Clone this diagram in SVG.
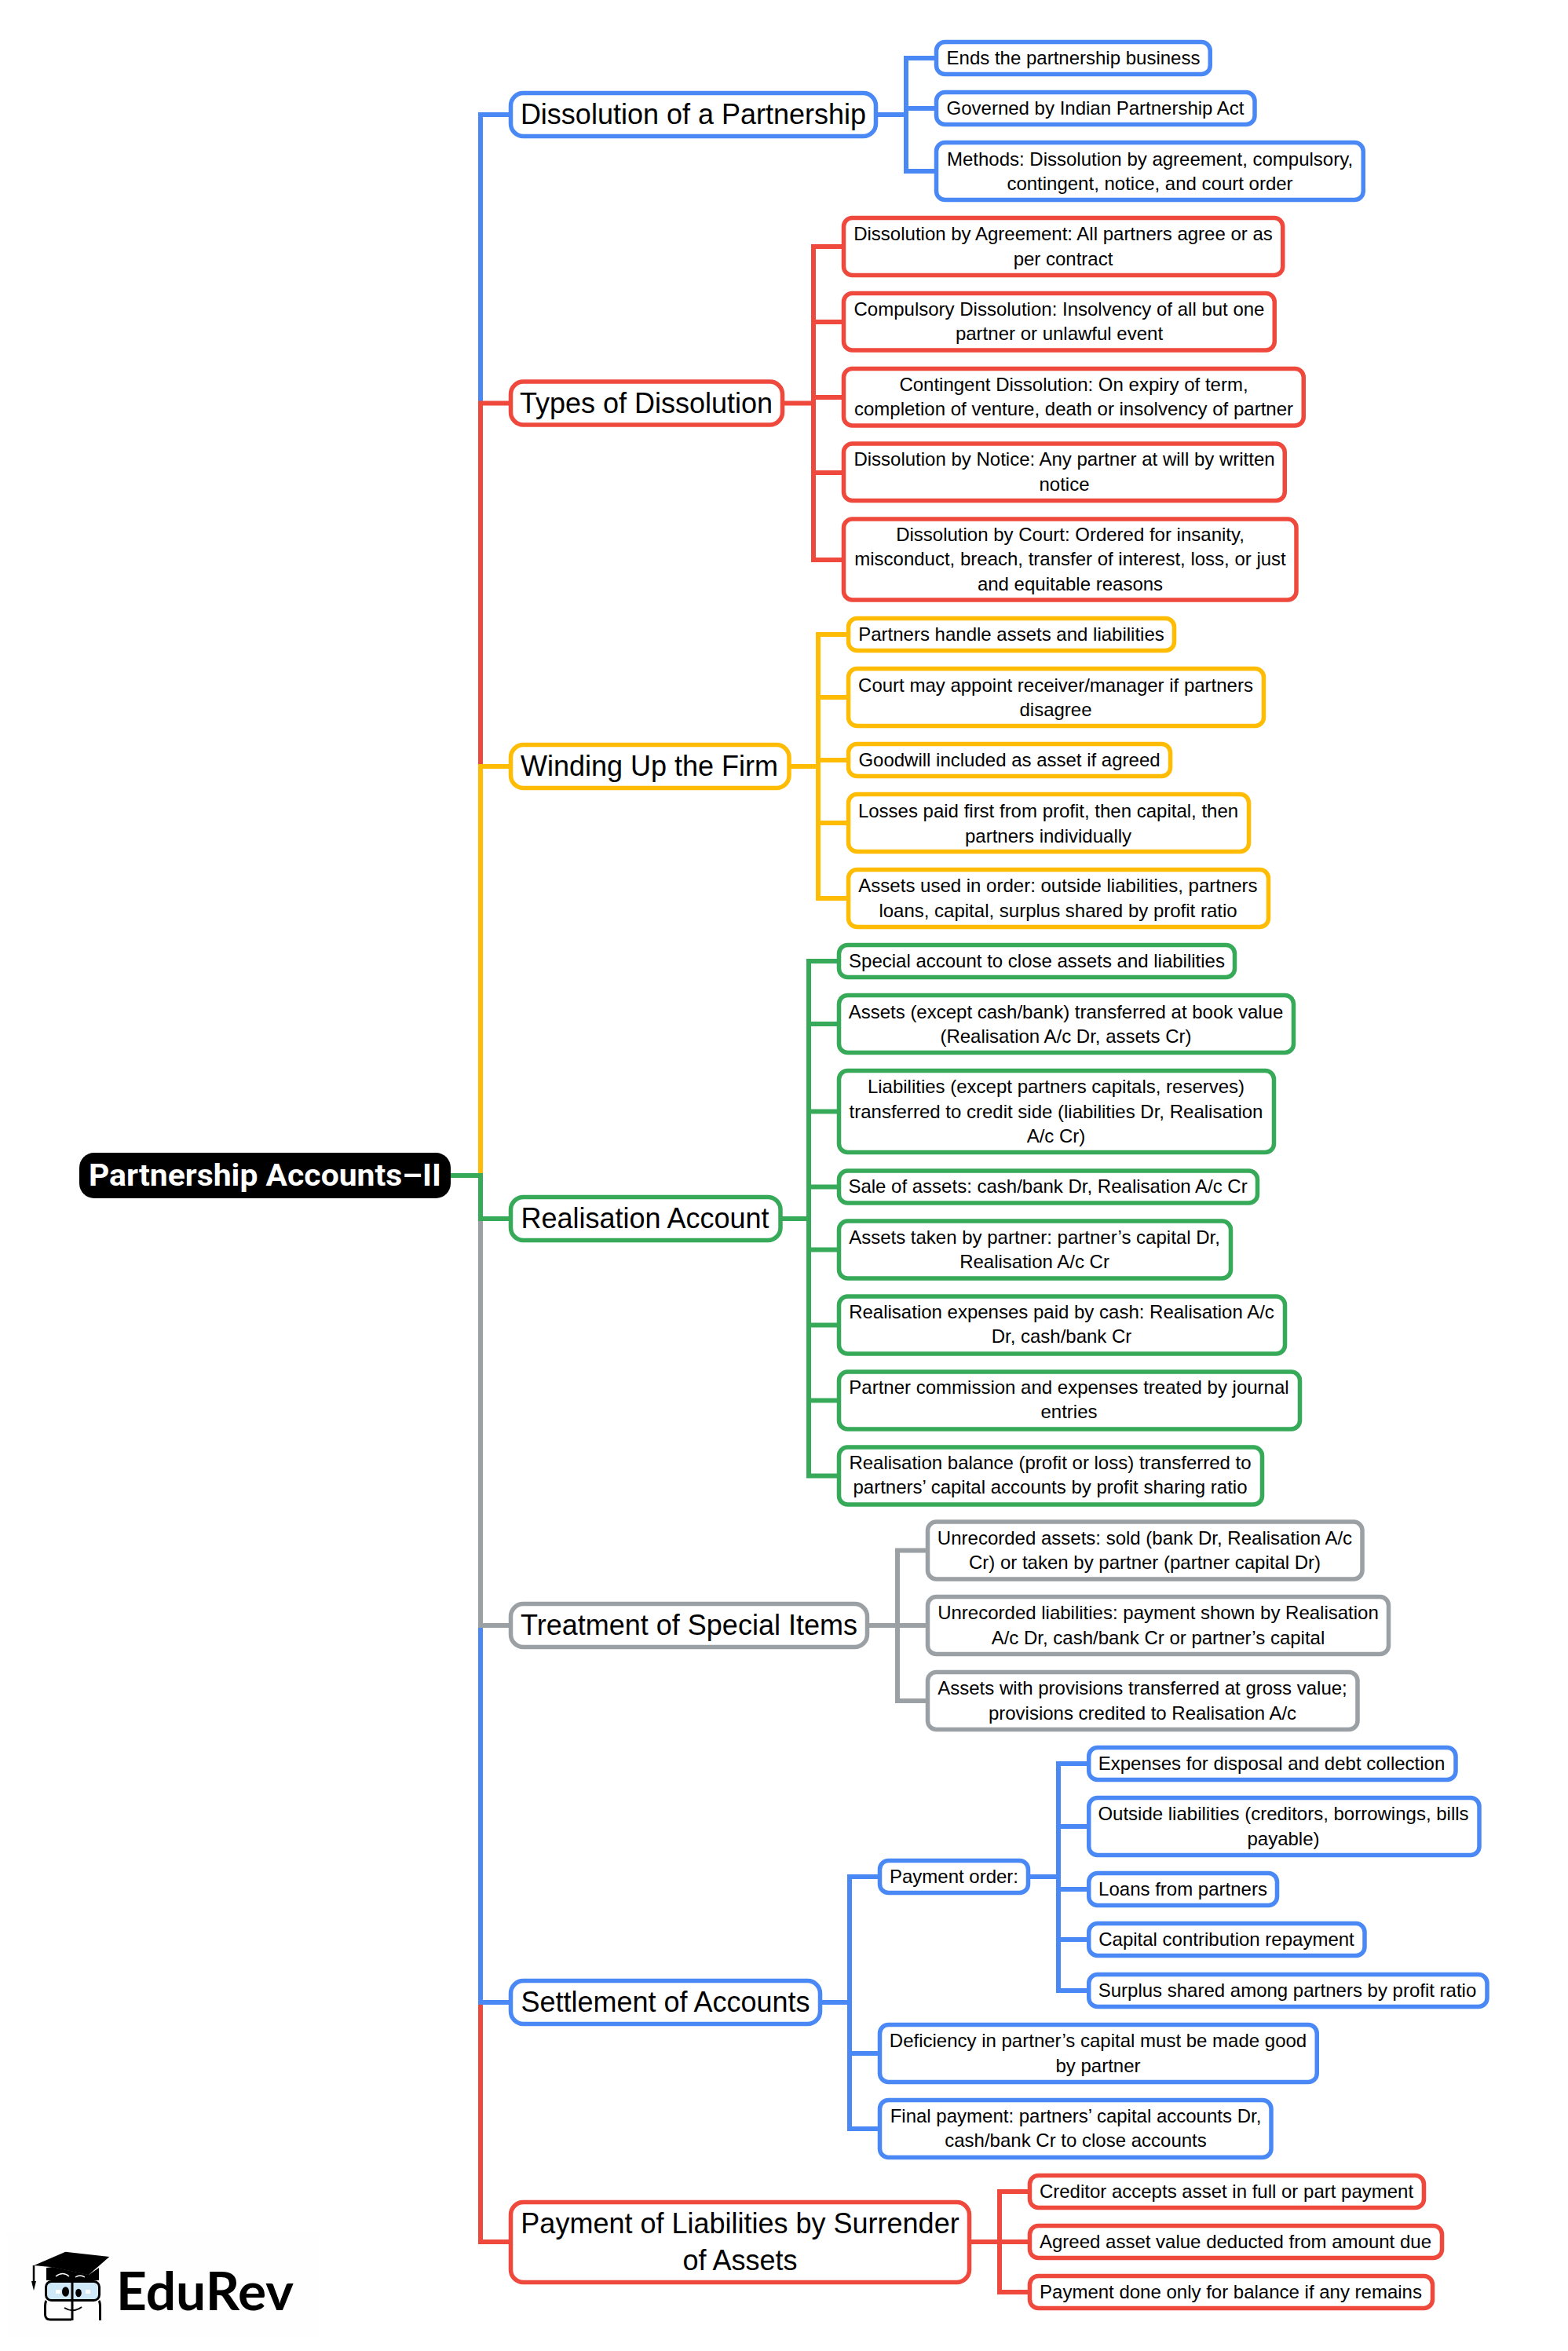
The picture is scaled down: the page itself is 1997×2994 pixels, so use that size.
<svg xmlns="http://www.w3.org/2000/svg" width="1997" height="2994" viewBox="0 0 1997 2994">
<style>
text{font-family:"Liberation Sans",Arial,sans-serif;fill:#000;text-anchor:middle}
.s{font-size:24px}
.l{font-size:36px}
.n{fill:#fff;stroke-width:5.5}
.m{rx:11px;ry:11px}
.b{rx:16px;ry:16px}
.c{fill:none;stroke-width:6;stroke-linejoin:miter}
.bl{stroke:#4a89f5}.re{stroke:#ee493c}.ye{stroke:#ffbc04}.gr{stroke:#36aa58}.ga{stroke:#9aa0a4}
</style>
<rect width="1997" height="2994" fill="#fff"/>
<rect id="logo-bg" x="10" y="2843" width="396" height="134" fill="#fefefe"/>
<g id="connectors">
<path class="c bl" d="M574 1497H612V146H650"/>
<path class="c re" d="M574 1497H612V2855H650"/>
<path class="c re" d="M574 1497H612V513.5H650"/>
<path class="c bl" d="M574 1497H612V2550H650"/>
<path class="c ye" d="M574 1497H612V976H650"/>
<path class="c ga" d="M574 1497H612V2070H650"/>
<path class="c gr" d="M574 1497H612V1552H650"/>
<path class="c bl" d="M1116 146H1154M1192 74H1154V218H1192M1154 138H1192"/>
<path class="c re" d="M996 513.5H1036M1074 314H1036V713H1074M1036 410H1074M1036 506H1074M1036 602H1074"/>
<path class="c ye" d="M1004 976H1042M1080 808H1042V1144H1080M1042 888H1080M1042 968H1080M1042 1048H1080"/>
<path class="c gr" d="M993 1552H1030M1068 1224H1030V1879.5H1068M1030 1304H1068M1030 1415.5H1068M1030 1511.5H1068M1030 1591.5H1068M1030 1687.5H1068M1030 1783.5H1068"/>
<path class="c ga" d="M1105 2070H1143M1181 1974.5H1143V2166H1181M1143 2070H1181"/>
<path class="c bl" d="M1045 2550H1082M1120 2390H1082V2711H1120M1082 2615H1120"/>
<path class="c bl" d="M1310 2390H1348M1386 2246H1348V2535H1386M1348 2326H1386M1348 2406H1386M1348 2470H1386"/>
<path class="c re" d="M1235 2855H1273M1311 2791H1273V2919H1311M1273 2855H1311"/>
</g>
<g id="root"><rect x="101" y="1468" width="473" height="58" rx="19" ry="19" fill="#000"/><text x="337.5" y="1510" style="fill:#fff;font-family:Roboto,'Liberation Sans',sans-serif;font-size:38px;font-weight:700" textLength="449" lengthAdjust="spacingAndGlyphs">Partnership Accounts–II</text></g>

<g id="n1"><rect class="n b bl" x="650.5" y="118.5" width="465" height="55"/><text class="l" x="883" y="158">Dissolution of a Partnership</text></g>
<g id="n1-1"><rect class="n m bl" x="1192.5" y="53.5" width="348.75" height="41"/><text class="s" x="1367" y="82">Ends the partnership business</text></g>
<g id="n1-2"><rect class="n m bl" x="1192.5" y="117.5" width="405.5" height="41"/><text class="s" x="1395" y="146">Governed by Indian Partnership Act</text></g>
<g id="n1-3"><rect class="n m bl" x="1192.5" y="181.5" width="543.75" height="73"/><text class="s" x="1464.5" y="210.5">Methods: Dissolution by agreement, compulsory,</text><text class="s" x="1464.5" y="242">contingent, notice, and court order</text></g>

<g id="n2"><rect class="n b re" x="650.5" y="486" width="346" height="55"/><text class="l" x="823" y="525.5">Types of Dissolution</text></g>
<g id="n2-1"><rect class="n m re" x="1074.5" y="277.5" width="559.25" height="73"/><text class="s" x="1354" y="306">Dissolution by Agreement: All partners agree or as</text><text class="s" x="1354" y="337.5">per contract</text></g>
<g id="n2-2"><rect class="n m re" x="1074.5" y="373.5" width="548.75" height="72.5"/><text class="s" x="1349" y="402">Compulsory Dissolution: Insolvency of all but one</text><text class="s" x="1349" y="433">partner or unlawful event</text></g>
<g id="n2-3"><rect class="n m re" x="1074.5" y="469.5" width="585.75" height="72.5"/><text class="s" x="1367.5" y="498">Contingent Dissolution: On expiry of term,</text><text class="s" x="1367.5" y="529">completion of venture, death or insolvency of partner</text></g>
<g id="n2-4"><rect class="n m re" x="1074.5" y="565" width="561.75" height="72.5"/><text class="s" x="1355.5" y="593">Dissolution by Notice: Any partner at will by written</text><text class="s" x="1355.5" y="624.5">notice</text></g>
<g id="n2-5"><rect class="n m re" x="1074.5" y="661" width="576.5" height="103"/><text class="s" x="1363" y="688.5">Dissolution by Court: Ordered for insanity,</text><text class="s" x="1363" y="720">misconduct, breach, transfer of interest, loss, or just</text><text class="s" x="1363" y="751.5">and equitable reasons</text></g>

<g id="n3"><rect class="n b ye" x="650.5" y="948.5" width="354.5" height="55"/><text class="l" x="827" y="988">Winding Up the Firm</text></g>
<g id="n3-1"><rect class="n m ye" x="1080.5" y="787.5" width="415" height="41"/><text class="s" x="1288" y="816">Partners handle assets and liabilities</text></g>
<g id="n3-2"><rect class="n m ye" x="1080.5" y="851.5" width="529" height="73"/><text class="s" x="1344.5" y="880.5">Court may appoint receiver/manager if partners</text><text class="s" x="1344.5" y="912">disagree</text></g>
<g id="n3-3"><rect class="n m ye" x="1080.5" y="947.5" width="410" height="41"/><text class="s" x="1285.5" y="976">Goodwill included as asset if agreed</text></g>
<g id="n3-4"><rect class="n m ye" x="1080.5" y="1011.5" width="510" height="73"/><text class="s" x="1335" y="1040.5">Losses paid first from profit, then capital, then</text><text class="s" x="1335" y="1072.5">partners individually</text></g>
<g id="n3-5"><rect class="n m ye" x="1080.5" y="1107.5" width="535" height="73"/><text class="s" x="1347.5" y="1136">Assets used in order: outside liabilities, partners</text><text class="s" x="1347.5" y="1168">loans, capital, surplus shared by profit ratio</text></g>

<g id="n4"><rect class="n b gr" x="650.5" y="1524.5" width="343.5" height="55"/><text class="l" x="821.5" y="1564">Realisation Account</text></g>
<g id="n4-1"><rect class="n m gr" x="1068.5" y="1203.5" width="504" height="41"/><text class="s" x="1320.5" y="1232">Special account to close assets and liabilities</text></g>
<g id="n4-2"><rect class="n m gr" x="1068.5" y="1267.5" width="579" height="73"/><text class="s" x="1357.5" y="1296.5">Assets (except cash/bank) transferred at book value</text><text class="s" x="1357.5" y="1328">(Realisation A/c Dr, assets Cr)</text></g>
<g id="n4-3"><rect class="n m gr" x="1068.5" y="1363.5" width="554" height="104"/><text class="s" x="1345" y="1391.5">Liabilities (except partners capitals, reserves)</text><text class="s" x="1345" y="1423.5">transferred to credit side (liabilities Dr, Realisation</text><text class="s" x="1345" y="1455">A/c Cr)</text></g>
<g id="n4-4"><rect class="n m gr" x="1068.5" y="1491" width="533" height="41"/><text class="s" x="1334.5" y="1519">Sale of assets: cash/bank Dr, Realisation A/c Cr</text></g>
<g id="n4-5"><rect class="n m gr" x="1068.5" y="1555" width="499" height="73"/><text class="s" x="1317.5" y="1584">Assets taken by partner: partner’s capital Dr,</text><text class="s" x="1317.5" y="1615">Realisation A/c Cr</text></g>
<g id="n4-6"><rect class="n m gr" x="1068.5" y="1651" width="568" height="73"/><text class="s" x="1352" y="1678.5">Realisation expenses paid by cash: Realisation A/c</text><text class="s" x="1352" y="1710">Dr, cash/bank Cr</text></g>
<g id="n4-7"><rect class="n m gr" x="1068.5" y="1747" width="587" height="73"/><text class="s" x="1361.5" y="1775">Partner commission and expenses treated by journal</text><text class="s" x="1361.5" y="1806">entries</text></g>
<g id="n4-8"><rect class="n m gr" x="1068.5" y="1843" width="539" height="73"/><text class="s" x="1337.5" y="1871">Realisation balance (profit or loss) transferred to</text><text class="s" x="1337.5" y="1902">partners’ capital accounts by profit sharing ratio</text></g>

<g id="n5"><rect class="n b ga" x="650.5" y="2042.5" width="454" height="55"/><text class="l" x="877.5" y="2082">Treatment of Special Items</text></g>
<g id="n5-1"><rect class="n m ga" x="1181.5" y="1938" width="553.5" height="73"/><text class="s" x="1458" y="1967">Unrecorded assets: sold (bank Dr, Realisation A/c</text><text class="s" x="1458" y="1998">Cr) or taken by partner (partner capital Dr)</text></g>
<g id="n5-2"><rect class="n m ga" x="1181.5" y="2033.5" width="587" height="73"/><text class="s" x="1475" y="2062">Unrecorded liabilities: payment shown by Realisation</text><text class="s" x="1475" y="2093.5">A/c Dr, cash/bank Cr or partner’s capital</text></g>
<g id="n5-3"><rect class="n m ga" x="1181.5" y="2129.5" width="547.5" height="73"/><text class="s" x="1455" y="2158">Assets with provisions transferred at gross value;</text><text class="s" x="1455" y="2189.5">provisions credited to Realisation A/c</text></g>

<g id="n6"><rect class="n b bl" x="650.5" y="2522.5" width="394" height="55"/><text class="l" x="847.5" y="2562">Settlement of Accounts</text></g>
<g id="n6-1"><rect class="n m bl" x="1120.5" y="2369.5" width="189" height="41"/><text class="s" x="1215" y="2397.5">Payment order:</text></g>
<g id="n6-1-1"><rect class="n m bl" x="1386.75" y="2225.5" width="467.25" height="41"/><text class="s" x="1619.5" y="2254">Expenses for disposal and debt collection</text></g>
<g id="n6-1-2"><rect class="n m bl" x="1386.75" y="2289.5" width="497.25" height="73"/><text class="s" x="1634.5" y="2318">Outside liabilities (creditors, borrowings, bills</text><text class="s" x="1634.5" y="2349.5">payable)</text></g>
<g id="n6-1-3"><rect class="n m bl" x="1386.75" y="2385.5" width="239.75" height="41"/><text class="s" x="1506.5" y="2414">Loans from partners</text></g>
<g id="n6-1-4"><rect class="n m bl" x="1386.75" y="2449.5" width="351.25" height="41"/><text class="s" x="1562" y="2478">Capital contribution repayment</text></g>
<g id="n6-1-5"><rect class="n m bl" x="1386.75" y="2514.5" width="507.25" height="41"/><text class="s" x="1639.5" y="2543">Surplus shared among partners by profit ratio</text></g>
<g id="n6-2"><rect class="n m bl" x="1120.5" y="2578.5" width="556.75" height="73"/><text class="s" x="1398.5" y="2607">Deficiency in partner’s capital must be made good</text><text class="s" x="1398.5" y="2639">by partner</text></g>
<g id="n6-3"><rect class="n m bl" x="1120.5" y="2674.5" width="498.5" height="73"/><text class="s" x="1370" y="2702.5">Final payment: partners’ capital accounts Dr,</text><text class="s" x="1370" y="2734">cash/bank Cr to close accounts</text></g>

<g id="n7"><rect class="n b re" x="650.5" y="2804.5" width="584" height="102"/><text class="l" x="942.5" y="2844">Payment of Liabilities by Surrender</text><text class="l" x="942.5" y="2891">of Assets</text></g>
<g id="n7-1"><rect class="n m re" x="1311.5" y="2770.5" width="502" height="41"/><text class="s" x="1562" y="2799">Creditor accepts asset in full or part payment</text></g>
<g id="n7-2"><rect class="n m re" x="1311.5" y="2834.5" width="525" height="41"/><text class="s" x="1573.5" y="2863">Agreed asset value deducted from amount due</text></g>
<g id="n7-3"><rect class="n m re" x="1311.5" y="2898.5" width="513" height="41"/><text class="s" x="1567.5" y="2927">Payment done only for balance if any remains</text></g>

<g id="logo">
<path d="M59 2888V2904H126V2888L113 2897 67 2887Z" fill="#000"/>
<path d="M71 2899Q80 2892 88 2899M96 2900Q102 2896 108 2900" fill="none" stroke="#fff" stroke-width="1.5"/>
<path d="M43.3 2885L83.3 2867.7 139.3 2874 112.7 2897.3 66.7 2887.3Z" fill="#000"/>
<path d="M43 2885V2906" stroke="#000" stroke-width="2.5" fill="none"/>
<path d="M40 2905H46L43 2917Z" fill="#000"/>
<rect x="58.5" y="2905.5" width="68" height="24" rx="7" fill="#cfe8f7" stroke="#000" stroke-width="3"/>
<path d="M59 2930Q57.5 2932 57.5 2938V2948Q58 2954 64 2954H91M126 2930Q127.5 2932 127.5 2938V2955" fill="none" stroke="#000" stroke-width="3"/>
<path d="M92 2903V2955" stroke="#000" stroke-width="3" fill="none"/>
<ellipse cx="83.5" cy="2918.5" rx="4.5" ry="6.2" fill="#000"/><ellipse cx="100" cy="2920" rx="3.8" ry="5.2" fill="#000"/>
<path d="M71 2916h6v5h-6zM109 2916h6v5h-6z" fill="#fff"/>
<path d="M82 2939Q93 2946 104 2938" fill="none" stroke="#000" stroke-width="2"/>
<text x="261" y="2942" style="font-family:Lato,'Liberation Sans',sans-serif;font-size:66px;font-weight:700" textLength="226" lengthAdjust="spacingAndGlyphs">EduRev</text>
</g>
</svg>
